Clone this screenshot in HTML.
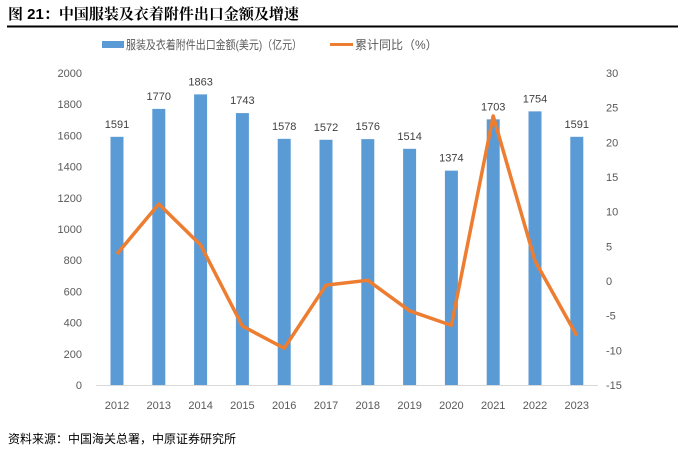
<!DOCTYPE html>
<html><head><meta charset="utf-8"><style>
body{margin:0;background:#fff;width:685px;height:454px;overflow:hidden;font-family:"Liberation Sans","Noto Sans CJK SC",sans-serif}
</style></head><body>
<svg width="685" height="454" xmlns="http://www.w3.org/2000/svg">
<text x="8" y="19" font-size="15" font-weight="bold" fill="#000" font-family="Liberation Sans,Noto Serif CJK SC,serif">图 21：中国服装及衣着附件出口金额及增速</text>
<line x1="7" y1="26.5" x2="678" y2="26.5" stroke="#000" stroke-width="2"/>
<g>
<rect x="102" y="41" width="22" height="7" fill="#5b9bd5"/>
<text x="126" y="49" font-size="12" fill="#595959" textLength="176" lengthAdjust="spacingAndGlyphs">服装及衣着附件出口金额(美元)（亿元）</text>
<line x1="330" y1="44.5" x2="353" y2="44.5" stroke="#ed7d31" stroke-width="3"/>
<text x="355" y="49" font-size="12" fill="#595959">累计同比（%）</text>
</g>
<g id="axes"></g><g id="bars"></g><g id="line"></g>
<text x="8" y="443" font-size="12" fill="#000">资料来源：中国海关总署，中原证券研究所</text>
</svg>
<script>
const years=["2012","2013","2014","2015","2016","2017","2018","2019","2020","2021","2022","2023"];
const amounts=[1591,1770,1863,1743,1578,1572,1576,1514,1374,1703,1754,1591];
const growth=[3.9,11.1,5.2,-6.5,-9.7,-0.6,0.1,-4.3,-6.4,23.8,2.9,-7.9];
const leftTicks=[0,200,400,600,800,1000,1200,1400,1600,1800,2000];
const rightTicks=[-15,-10,-5,0,5,10,15,20,25,30];
const NS="http://www.w3.org/2000/svg";
const plotTop=73,plotBot=385;
const yL=v=>plotBot-(v/2000)*(plotBot-plotTop);
const yR=v=>plotBot-((v+15)/45)*(plotBot-plotTop);
const xC=i=>117+i*41.8;
function mk(t,a,p){const e=document.createElementNS(NS,t);for(const k in a)e.setAttribute(k,a[k]);p.appendChild(e);return e;}
const ax=document.getElementById('axes'),bg=document.getElementById('bars'),lg=document.getElementById('line');
leftTicks.forEach(v=>{const t=mk('text',{x:82,y:yL(v)+4,'font-size':11,fill:'#595959','text-anchor':'end'},ax);t.textContent=v;

});
rightTicks.forEach(v=>{const t=mk('text',{x:606,y:yR(v)+4,'font-size':11,fill:'#595959'},ax);t.textContent=v;

});
const bl=mk('line',{x1:96,y1:plotBot+0.5,x2:598,y2:plotBot+0.5,stroke:'#d9d9d9'},ax);


years.forEach((y,i)=>{const t=mk('text',{x:xC(i),y:409,'font-size':11,fill:'#595959','text-anchor':'middle'},ax);t.textContent=y;


const r=mk('rect',{x:xC(i)-6.5,y:yL(amounts[i]),width:13,height:plotBot-yL(amounts[i]),fill:'#5b9bd5'},bg);


const l=mk('text',{x:xC(i),y:yL(amounts[i])-9,'font-size':11,fill:'#404040','text-anchor':'middle'},bg);l.textContent=amounts[i];

});
const p=mk('polyline',{points:growth.map((v,i)=>xC(i)+','+yR(v)).join(' '),fill:'none',stroke:'#ed7d31','stroke-width':3.5,'stroke-linejoin':'round'},lg);


</script>
</body></html>
